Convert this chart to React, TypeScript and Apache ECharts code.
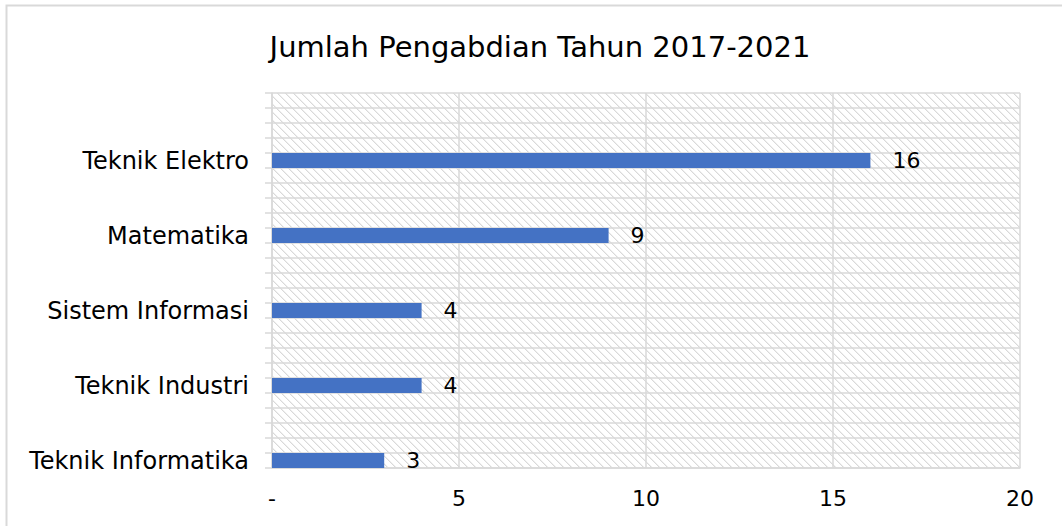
import React, { useEffect, useRef } from "react";
import * as echarts from "echarts";

const categories = ["Teknik Elektro", "Matematika", "Sistem Informasi", "Teknik Industri", "Teknik Informatika"];
const values = [16, 9, 4, 4, 3];
const xTicks = [0, 5, 10, 15, 20];
const titleText = "Jumlah Pengabdian Tahun 2017-2021";

const SLOTS_PER_CAT = 5;

function makeHatch(): HTMLCanvasElement {
  const c = document.createElement("canvas");
  c.width = 8;
  c.height = 8;
  const ctx = c.getContext("2d")!;
  ctx.fillStyle = "#ffffff";
  ctx.fillRect(0, 0, 8, 8);
  ctx.fillStyle = "#d9d9d9";
  for (let i = 0; i < 8; i++) {
    ctx.fillRect(i, i, 1, 1);
  }
  ctx.fillStyle = "#efefef";
  for (let i = 0; i < 8; i++) {
    ctx.fillRect((i + 1) % 8, i, 1, 1);
  }
  return c;
}

export default function App() {
  const ref = useRef<HTMLDivElement>(null);
  useEffect(() => {
    if (!ref.current) return;
    const chart = echarts.init(ref.current, undefined, { renderer: "svg" });
    const slotLabels: string[] = [];
    const slotValues: (number | string)[] = [];
    categories.forEach((c, i) => {
      for (let k = 0; k < SLOTS_PER_CAT; k++) {
        if (k === SLOTS_PER_CAT - 1) {
          slotLabels.push(c);
          slotValues.push(values[i]);
        } else {
          slotLabels.push("");
          slotValues.push("-");
        }
      }
    });
    const font = "'DejaVu Sans', 'Open Sans', sans-serif";
    const grey = "#d9d9d9";
    chart.setOption({
      animation: false,
      backgroundColor: "#ffffff",
      textStyle: { fontFamily: font },
      title: {
        text: titleText,
        left: 535,
        top: 27,
        textAlign: "center",
        textStyle: { fontFamily: font, fontSize: 29, fontWeight: "normal", color: "#000000" },
      },
      graphic: [
        {
          type: "rect",
          shape: { x: 6.5, y: 5.5, width: 1200, height: 1000 },
          style: { fill: "none", stroke: grey, lineWidth: 2 },
          silent: true,
        },
      ],
      grid: {
        left: 272,
        right: 42,
        top: 93,
        bottom: 58,
        show: true,
        borderWidth: 0,
        backgroundColor: { image: makeHatch(), repeat: "repeat" },
      },
      xAxis: {
        type: "value",
        min: xTicks[0],
        max: xTicks[xTicks.length - 1],
        interval: 5,
        axisLine: { show: true, lineStyle: { color: grey, width: 1.5 } },
        axisTick: { show: false },
        splitLine: { show: true, lineStyle: { color: grey, width: 1.5 } },
        axisLabel: {
          margin: 19,
          fontSize: 22,
          color: "#000000",
          fontFamily: font,
          formatter: (v: number) => (v === 0 ? "-" : String(v)),
        },
      },
      yAxis: {
        type: "category",
        inverse: true,
        data: slotLabels,
        axisLine: { show: true, lineStyle: { color: grey, width: 1.5 } },
        axisTick: { show: true, interval: 0, length: 7, lineStyle: { color: grey, width: 1.5 } },
        splitLine: { show: true, interval: 0, lineStyle: { color: grey, width: 1.5 } },
        axisLabel: { interval: 0, margin: 23, fontSize: 24, color: "#000000", fontFamily: font },
      },
      series: [
        {
          type: "bar",
          data: slotValues,
          barWidth: "100%",
          itemStyle: { color: "#4472C4" },
          label: {
            show: true,
            position: "right",
            distance: 22,
            fontSize: 22,
            color: "#000000",
            fontFamily: font,
          },
        },
      ],
    });
    return () => chart.dispose();
  }, []);
  return <div ref={ref} style={{ width: 1062, height: 526, position: "absolute", left: 0, top: 0 }} />;
}
